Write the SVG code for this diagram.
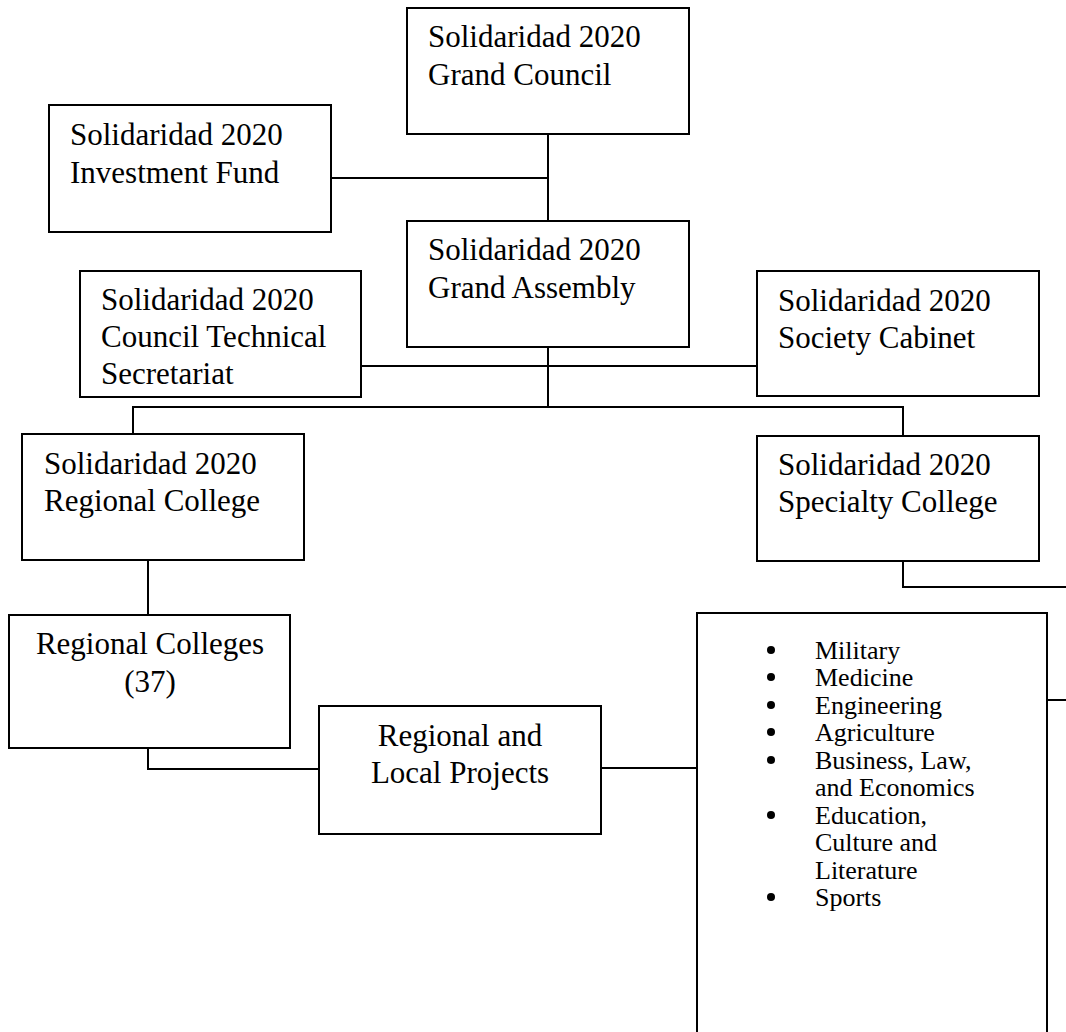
<svg xmlns="http://www.w3.org/2000/svg" width="1066" height="1032" viewBox="0 0 1066 1032">
<style>
.box{fill:#fff;stroke:#000;stroke-width:2}
.t{font-family:"Liberation Serif","Times New Roman",serif;font-size:31px;fill:#000}
.c{text-anchor:middle}
.li{font-family:"Liberation Serif","Times New Roman",serif;font-size:26px;fill:#000}
.conn{fill:none;stroke:#000;stroke-width:2}
</style>
<rect width="1066" height="1032" fill="#fff"/>
<g id="connectors">
<path class="conn" d="M548,134 V221"/>
<path class="conn" d="M331,178 H548"/>
<path class="conn" d="M361,366 H757"/>
<path class="conn" d="M548,347 V407"/>
<path class="conn" d="M133,434 V407 H903 V436"/>
<path class="conn" d="M903,561 V587 H1066"/>
<path class="conn" d="M148,560 V615"/>
<path class="conn" d="M148,748 V769 H319"/>
<path class="conn" d="M601,768 H697"/>
<path class="conn" d="M1047,700 H1066"/>
</g>
<g id="grand-council">
<rect class="box" x="407" y="8" width="282" height="126"/>
<text class="t" x="428" y="47">Solidaridad 2020</text>
<text class="t" x="428" y="85">Grand Council</text>
</g>
<g id="investment-fund">
<rect class="box" x="49" y="105" width="282" height="127"/>
<text class="t" x="70" y="145">Solidaridad 2020</text>
<text class="t" x="70" y="183">Investment Fund</text>
</g>
<g id="grand-assembly">
<rect class="box" x="407" y="221" width="282" height="126"/>
<text class="t" x="428" y="260">Solidaridad 2020</text>
<text class="t" x="428" y="298">Grand Assembly</text>
</g>
<g id="technical-secretariat">
<rect class="box" x="80" y="271" width="281" height="126"/>
<text class="t" x="101" y="310">Solidaridad 2020</text>
<text class="t" x="101" y="347">Council Technical</text>
<text class="t" x="101" y="384">Secretariat</text>
</g>
<g id="society-cabinet">
<rect class="box" x="757" y="271" width="282" height="125"/>
<text class="t" x="778" y="311">Solidaridad 2020</text>
<text class="t" x="778" y="348">Society Cabinet</text>
</g>
<g id="regional-college">
<rect class="box" x="22" y="434" width="282" height="126"/>
<text class="t" x="44" y="474">Solidaridad 2020</text>
<text class="t" x="44" y="511">Regional College</text>
</g>
<g id="specialty-college">
<rect class="box" x="757" y="436" width="282" height="125"/>
<text class="t" x="778" y="475">Solidaridad 2020</text>
<text class="t" x="778" y="512">Specialty College</text>
</g>
<g id="regional-colleges">
<rect class="box" x="9" y="615" width="281" height="133"/>
<text class="t c" x="150" y="654">Regional Colleges</text>
<text class="t c" x="150" y="692">(37)</text>
</g>
<g id="regional-local-projects">
<rect class="box" x="319" y="706" width="282" height="128"/>
<text class="t c" x="460" y="746">Regional and</text>
<text class="t c" x="460" y="783">Local Projects</text>
</g>
<g id="specialties">
<rect class="box" x="697" y="613" width="350" height="440"/>
<g fill="#000">
<circle cx="771" cy="650" r="4"/>
<circle cx="771" cy="677" r="4"/>
<circle cx="771" cy="705" r="4"/>
<circle cx="771" cy="732" r="4"/>
<circle cx="771" cy="760" r="4"/>
<circle cx="771" cy="815" r="4"/>
<circle cx="771" cy="897" r="4"/>
</g>
<text class="li" x="815" y="659">Military</text>
<text class="li" x="815" y="686">Medicine</text>
<text class="li" x="815" y="714">Engineering</text>
<text class="li" x="815" y="741">Agriculture</text>
<text class="li" x="815" y="769">Business, Law,</text>
<text class="li" x="815" y="796">and Economics</text>
<text class="li" x="815" y="824">Education,</text>
<text class="li" x="815" y="851">Culture and</text>
<text class="li" x="815" y="879">Literature</text>
<text class="li" x="815" y="906">Sports</text>
</g>
</svg>
